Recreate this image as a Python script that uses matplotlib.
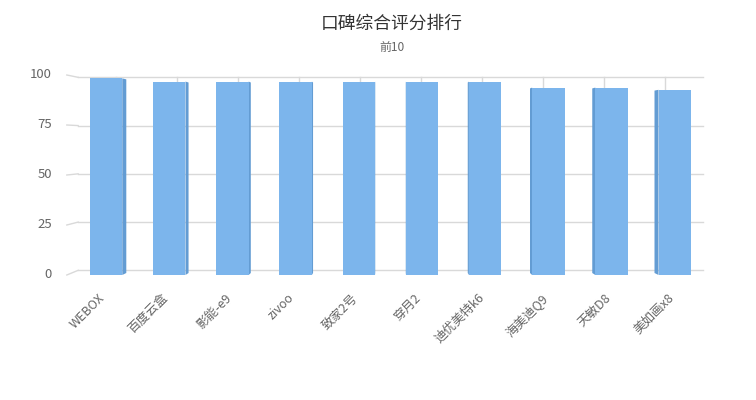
import matplotlib
matplotlib.use('Agg')
import matplotlib.pyplot as plt
from matplotlib.patches import Polygon
import numpy as np

plt.rcParams['font.family'] = ['Noto Sans CJK SC', 'DejaVu Sans']

# data
names = ['WEBOX', '百度云盒', '影能-e9', 'zivoo', '致家2号', '穿月2',
         '迪优美特k6', '海美迪Q9', '天敏D8', '美如画x8']
scores = [98.3, 96.7, 96.7, 96.7, 96.7, 96.7, 96.7, 93.7, 93.7, 92.6]
y_ticks = [0, 25, 50, 75, 100]

# fake 3d: simple perspective toward a vanishing point (data units)
VX, VY = 4.5, 66.6
S_WALL = 0.965
S_BAR = 0.985


def proj(x, y, s):
    return VX + s * (x - VX), VY + s * (y - VY)


fig = plt.figure(figsize=(7.56, 4), dpi=100)
ax = fig.add_axes([74.4 / 756, 0.3125, 632 / 756, 0.5])
ax.set_xlim(-0.5, 9.5)
ax.set_ylim(0, 100)
ax.axis('off')

grid_c = '#d9d9d9'
x_front = -0.62
x_right = 9.45
for v in y_ticks:
    bx, by = proj(x_front, v, S_WALL)
    ax.plot([x_front, bx], [v, by], color=grid_c, lw=1, clip_on=False, zorder=1)
    ax.plot([bx, x_right], [by, by], color=grid_c, lw=1, clip_on=False, zorder=1)
    ax.text(-0.854, v, str(v), ha='right', va='center', fontsize=9.5,
            color='#666666', clip_on=False)

# small ticks on the back wall
for i in range(len(names)):
    bx, by = proj(i, 100, S_WALL)
    ax.plot([bx, bx], [by, by - 7], color=grid_c, lw=1, clip_on=False, zorder=1)

x = np.arange(len(names))
w = 0.515
ax.bar(x, scores, width=w, color='#7cb5ec', zorder=3)

# side faces
for i, v in enumerate(scores):
    xe = i + w / 2 if i < VX else i - w / 2
    x1, y1 = proj(xe, v, S_BAR)
    x0, y0 = proj(xe, 0, S_BAR)
    side = Polygon([(xe, 0), (xe, v), (x1, y1), (x0, y0)], closed=True,
                   facecolor='#639cd3', edgecolor='none', zorder=2)
    ax.add_patch(side)

for i, n in enumerate(names):
    ax.text(i - 0.05, -10.5, n, rotation=45, ha='right', va='center',
            rotation_mode='anchor', fontsize=9, color='#666666', clip_on=False)

fig.text(392 / 756, 1 - 24 / 400, '口碑综合评分排行', ha='center', va='center',
         fontsize=12.75, color='#333333')
fig.text(392 / 756, 1 - 47 / 400, '前10', ha='center', va='center',
         fontsize=8.6, color='#666666')

fig.savefig('out.png', dpi=100, facecolor='white')
